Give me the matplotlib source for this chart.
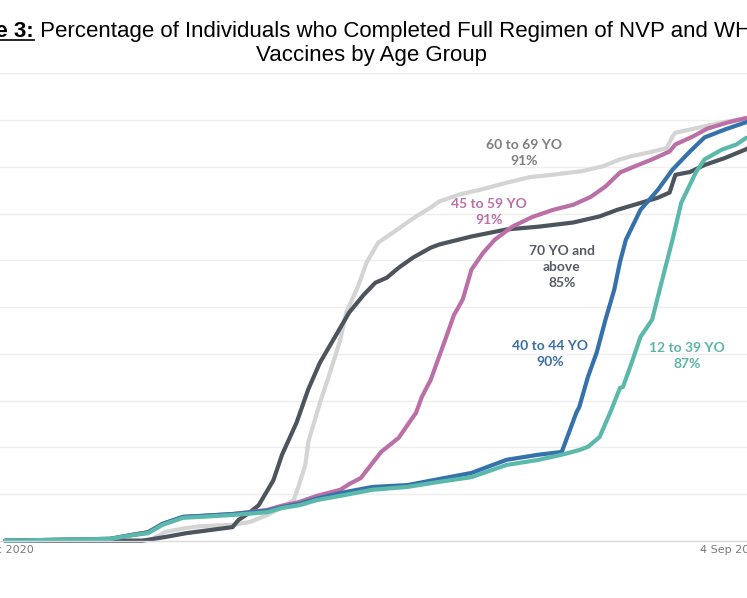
import matplotlib
matplotlib.use('Agg')
import matplotlib.pyplot as plt
from matplotlib.lines import Line2D
import pandas as pd

# ---------------- data ----------------
x_start = '2020-12-11'
x_end = '2021-09-04'
tick_labels = ['11 Dec 2020', '4 Sep 2021']

dates_60_69 = ['2020-12-20', '2021-02-05', '2021-02-08', '2021-02-13', '2021-02-20', '2021-02-25',
               '2021-03-08', '2021-03-14', '2021-03-20', '2021-03-25', '2021-03-29', '2021-03-31',
               '2021-04-02', '2021-04-03', '2021-04-07', '2021-04-10', '2021-04-14', '2021-04-16',
               '2021-04-20', '2021-04-23', '2021-04-27', '2021-05-02', '2021-05-07', '2021-05-10',
               '2021-05-15', '2021-05-18', '2021-05-25', '2021-06-01', '2021-06-10', '2021-06-18',
               '2021-06-27', '2021-07-06', '2021-07-13', '2021-07-19', '2021-07-23', '2021-07-29',
               '2021-08-04', '2021-08-06', '2021-08-07', '2021-08-15', '2021-08-23', '2021-08-31',
               '2021-09-04']
pct_60_69 = [0, 0.1, 0.2, 1.9, 2.7, 3.1,
             3.4, 4.0, 5.5, 7.2, 8.7, 12.3,
             16.2, 21.1, 29.5, 35.1, 43.0, 48.8,
             54.3, 59.5, 63.8, 65.9, 68.1, 69.4,
             71.3, 72.6, 74.1, 75.1, 76.6, 77.8,
             78.4, 79.1, 80.1, 81.6, 82.3, 83.1,
             84.0, 86.5, 87.3, 88.4, 89.5, 90.4,
             91.0]

dates_70_up = ['2020-12-20', '2021-02-05', '2021-02-13', '2021-02-20', '2021-03-03', '2021-03-08',
               '2021-03-10', '2021-03-14', '2021-03-17', '2021-03-22', '2021-03-25', '2021-03-30',
               '2021-04-03', '2021-04-07', '2021-04-13', '2021-04-17', '2021-04-22', '2021-04-26',
               '2021-04-30', '2021-05-04', '2021-05-09', '2021-05-15', '2021-05-18', '2021-05-29',
               '2021-06-10', '2021-06-21', '2021-07-03', '2021-07-12', '2021-07-18', '2021-07-24',
               '2021-08-01', '2021-08-05', '2021-08-07', '2021-08-12', '2021-08-17', '2021-08-24',
               '2021-08-31', '2021-09-04']
pct_70_up = [0, 0, 0.8, 1.6, 2.5, 2.9,
             4.4, 6.1, 7.6, 12.9, 18.4, 25.3,
             32.4, 38.1, 44.5, 48.8, 52.6, 55.2,
             56.3, 58.4, 60.6, 62.7, 63.4, 65.1,
             66.6, 67.2, 68.1, 69.4, 70.8, 71.9,
             73.4, 74.5, 78.3, 78.9, 80.4, 81.9,
             83.7, 85.0]

dates_45_59 = ['2020-12-20', '2021-01-25', '2021-02-02', '2021-02-07', '2021-02-12', '2021-02-19',
               '2021-02-25', '2021-03-08', '2021-03-20', '2021-03-25', '2021-03-31', '2021-04-06',
               '2021-04-14', '2021-04-17', '2021-04-21', '2021-04-28', '2021-05-04', '2021-05-09',
               '2021-05-10', '2021-05-12', '2021-05-15', '2021-05-20', '2021-05-23', '2021-05-26',
               '2021-05-29', '2021-06-02', '2021-06-06', '2021-06-12', '2021-06-19', '2021-06-26',
               '2021-07-03', '2021-07-09', '2021-07-14', '2021-07-19', '2021-07-24', '2021-07-30',
               '2021-08-05', '2021-08-07', '2021-08-13', '2021-08-18', '2021-08-25', '2021-08-31',
               '2021-09-04']
pct_45_59 = [0, 0.4, 1.3, 1.8, 3.6, 5.1,
             5.3, 5.7, 6.6, 7.5, 8.3, 9.6,
             10.9, 12.1, 13.4, 19.0, 22.0, 26.5,
             27.4, 30.8, 34.4, 43.0, 48.3, 51.6,
             58.0, 61.6, 64.4, 67.2, 69.3, 70.8,
             71.9, 73.6, 75.8, 78.8, 80.1, 81.6,
             83.3, 84.8, 86.5, 88.2, 89.5, 90.4,
             91.0]

dates_40_44 = ['2020-12-20', '2021-01-25', '2021-02-02', '2021-02-07', '2021-02-12', '2021-02-19',
               '2021-02-25', '2021-03-08', '2021-03-20', '2021-03-25', '2021-03-31', '2021-04-06',
               '2021-04-14', '2021-04-25', '2021-05-07', '2021-05-18', '2021-05-29', '2021-06-10',
               '2021-06-21', '2021-06-29', '2021-07-04', '2021-07-05', '2021-07-08', '2021-07-11',
               '2021-07-14', '2021-07-17', '2021-07-19', '2021-07-21', '2021-07-26', '2021-08-01',
               '2021-08-06', '2021-08-12', '2021-08-17', '2021-08-24', '2021-08-31', '2021-09-04']
pct_40_44 = [0, 0.4, 1.3, 1.8, 3.6, 5.1,
             5.3, 5.7, 6.4, 7.2, 7.9, 9.0,
             10.2, 11.5, 11.9, 13.2, 14.5, 17.3,
             18.4, 19.0, 27.4, 28.6, 35.1, 40.3,
             47.3, 53.7, 59.7, 64.4, 70.8, 75.1,
             79.4, 83.3, 86.3, 88.0, 89.5, 90.0]

dates_12_39 = ['2020-12-20', '2021-01-25', '2021-02-02', '2021-02-07', '2021-02-12', '2021-02-19',
               '2021-02-25', '2021-03-08', '2021-03-20', '2021-03-25', '2021-03-31', '2021-04-06',
               '2021-04-14', '2021-04-25', '2021-05-07', '2021-05-18', '2021-05-29', '2021-06-10',
               '2021-06-21', '2021-06-29', '2021-07-05', '2021-07-08', '2021-07-12', '2021-07-16',
               '2021-07-19', '2021-07-20', '2021-07-23', '2021-07-26', '2021-07-30', '2021-08-02',
               '2021-08-06', '2021-08-09', '2021-08-14', '2021-08-17', '2021-08-23', '2021-08-28',
               '2021-08-31', '2021-09-04']
pct_12_39 = [0, 0.4, 1.2, 1.6, 3.4, 4.9,
             5.1, 5.5, 6.1, 7.0, 7.6, 8.7,
             9.6, 10.9, 11.5, 12.6, 13.6, 16.2,
             17.3, 18.4, 19.4, 20.1, 22.2, 28.0,
             32.7, 32.9, 38.1, 43.6, 47.3, 54.7,
             64.4, 72.3, 78.8, 81.6, 83.7, 84.8,
             86.1, 87.0]

series = [
    ('60 to 69 YO', dates_60_69, pct_60_69, '#d4d4d4'),
    ('70 YO and above', dates_70_up, pct_70_up, '#4c545e'),
    ('45 to 59 YO', dates_45_59, pct_45_59, '#bb6fa7'),
    ('40 to 44 YO', dates_40_44, pct_40_44, '#3571aa'),
    ('12 to 39 YO', dates_12_39, pct_12_39, '#5bb9ab'),
]

# labels: (text, date, value, colour)
labels = [
    ('60 to 69 YO\n91%', '2021-06-16', 82.9, '#7f7f7f'),
    ('45 to 59 YO\n91%', '2021-06-04', 70.4, '#bb6fa7'),
    ('70 YO and\nabove\n85%', '2021-06-29', 58.6, '#555c66'),
    ('40 to 44 YO\n90%', '2021-06-25', 40.0, '#3a6ea6'),
    ('12 to 39 YO\n87%', '2021-08-11', 39.6, '#5ab5a7'),
]

title_bold = 'Figure 3:'
title_rest = ' Percentage of Individuals who Completed Full Regimen of NVP and WHO'
title_line2 = 'Vaccines by Age Group'

# ---------------- figure ----------------
W, H = 747, 598
fig = plt.figure(figsize=(W / 100, H / 100), dpi=100)
fig.patch.set_facecolor('white')

ax_left, ax_right = -21, 757
ax_top, ax_bottom = 73.4, 540.7
ax = fig.add_axes([ax_left / W, (H - ax_bottom) / H, (ax_right - ax_left) / W, (ax_bottom - ax_top) / H])

for name, d, v, c in series:
    ax.plot(pd.to_datetime(d), v, color=c, lw=3.0, solid_joinstyle='round', solid_capstyle='round',
            clip_on=False)

ax.set_xlim(pd.Timestamp(x_start), pd.Timestamp(x_end))
ax.set_ylim(0, 100)
ax.set_yticks(range(10, 101, 10))
ax.yaxis.grid(True, color='#eeeeee', lw=1.0)
ax.set_axisbelow(True)
ax.tick_params(axis='y', left=False, labelleft=False)
ax.set_xticks([pd.Timestamp(x_start), pd.Timestamp(x_end)])
ax.set_xticklabels([])
ax.tick_params(axis='x', length=0)
for s in ['top', 'right', 'left']:
    ax.spines[s].set_visible(False)
ax.spines['bottom'].set_color('#d9d9d9')
ax.spines['bottom'].set_linewidth(1.0)

# x-axis end labels (first / last date)
px2pt = 72 / 100
ax.annotate(tick_labels[0], xy=(pd.Timestamp(x_start), 0), xycoords=('data', 'axes fraction'),
            xytext=(55 * px2pt, -4 * px2pt), textcoords='offset points', ha='right', va='top',
            fontsize=8, color='#7a7a7a', family='DejaVu Sans', annotation_clip=False)
ax.annotate(tick_labels[1], xy=(pd.Timestamp(x_end), 0), xycoords=('data', 'axes fraction'),
            xytext=(-57 * px2pt, -4 * px2pt), textcoords='offset points', ha='left', va='top',
            fontsize=8, color='#7a7a7a', family='DejaVu Sans', annotation_clip=False)

for txt, d, v, c in labels:
    ax.text(pd.Timestamp(d), v, txt, ha='center', va='center', color=c, fontsize=10,
            family='Lato', fontweight='bold', linespacing=1.38, multialignment='center')

# ---------------- title ----------------
r = fig.canvas.get_renderer()
tf = dict(family='Liberation Sans', fontsize=16, color='black', va='baseline', ha='left')
tb = fig.text(0, 0, title_bold, fontweight='bold', **tf)
tr = fig.text(0, 0, title_rest, **tf)
wb = tb.get_window_extent(r).width
wr = tr.get_window_extent(r).width
cx1 = 354
x0 = cx1 - (wb + wr) / 2
y1 = H - 37
tb.set_position((x0 / W, y1 / H))
tr.set_position(((x0 + wb) / W, y1 / H))
fig.add_artist(Line2D([x0 / W, (x0 + wb) / W], [(y1 - 3) / H, (y1 - 3) / H], color='black', lw=1.2))
fig.text(371 / W, (H - 61) / H, title_line2, family='Liberation Sans', fontsize=16, color='black',
         ha='center', va='baseline')

fig.savefig('out.png', dpi=100)
